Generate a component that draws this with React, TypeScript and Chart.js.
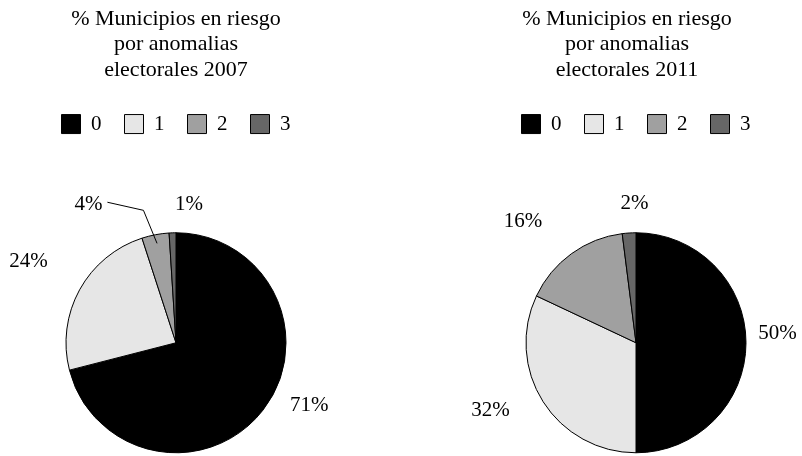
import { useEffect, useRef } from 'react';
import { Chart, registerables } from 'chart.js';

Chart.register(...registerables);

const FONT = '"Liberation Serif", "Times New Roman", serif';

const categories = ['0', '1', '2', '3'];
const values2007 = [71, 24, 4, 1];
const values2011 = [50, 32, 16, 2];
const title2007 = ['% Municipios en riesgo', 'por anomalias', 'electorales 2007'];
const title2011 = ['% Municipios en riesgo', 'por anomalias', 'electorales 2011'];
const sliceColors = ['#000000', '#e6e6e6', '#a0a0a0', '#666666'];

// label placement around each slice: [angle nudge in degrees, distance as share of radius]
const labelPlace2007 = [[-12.5, 1.34], [0, 1.53], [-21.5, 1.49], [7.2, 1.26]];
const labelPlace2011 = [[-3.6, 1.29], [7.3, 1.46], [-7, 1.505], [3, 1.264]];
const leader2007 = [false, false, true, false];
const leader2011 = [false, false, false, false];

const pctLabels = {
  id: 'pctLabels',
  afterDatasetsDraw(chart: any, _args: any, opts: any) {
    const meta = chart.getDatasetMeta(0);
    const data = chart.data.datasets[0].data;
    const ctx = chart.ctx;
    ctx.save();
    ctx.font = `${opts.size}px ${FONT}`;
    ctx.fillStyle = '#000';
    ctx.textAlign = 'center';
    ctx.textBaseline = 'middle';
    meta.data.forEach((arc: any, i: number) => {
      const { x, y, startAngle, endAngle, outerRadius } = arc.getProps(
        ['x', 'y', 'startAngle', 'endAngle', 'outerRadius'],
        true
      );
      const mid = (startAngle + endAngle) / 2;
      const [nudge, dist] = opts.place[i];
      const a = mid + (nudge * Math.PI) / 180;
      const lx = x + Math.cos(a) * outerRadius * dist;
      const ly = y + Math.sin(a) * outerRadius * dist;
      const text = data[i] + '%';
      ctx.fillText(text, lx, ly);
      if (opts.leader && opts.leader[i]) {
        const w = ctx.measureText(text).width;
        const ea = mid - (3 * Math.PI) / 180;
        ctx.beginPath();
        ctx.moveTo(lx + w / 2 + 5, ly - 2);
        ctx.lineTo(x + Math.cos(ea) * outerRadius * 1.24, y + Math.sin(ea) * outerRadius * 1.24);
        ctx.lineTo(x + Math.cos(mid) * outerRadius * 0.92, y + Math.sin(mid) * outerRadius * 0.92);
        ctx.lineWidth = 1;
        ctx.strokeStyle = '#000';
        ctx.stroke();
      }
    });
    ctx.restore();
  },
};

function makeConfig(values: number[], title: string[], place: number[][], leader: boolean[], leftSpace: number) {
  return {
    type: 'pie' as const,
    data: {
      labels: categories,
      datasets: [
        {
          data: values,
          backgroundColor: sliceColors,
          borderColor: '#000',
          borderWidth: 1,
          radius: 110,
        },
      ],
    },
    options: {
      responsive: false,
      animation: false as const,
      events: [],
      layout: { padding: 0 },
      plugins: {
        title: {
          display: true,
          text: title,
          color: '#000',
          font: { family: FONT, size: 22, weight: 'normal' as const, lineHeight: 1.16 },
          padding: { top: 6, bottom: 8 },
        },
        subtitle: {
          display: leftSpace > 0,
          position: 'left' as const,
          text: '',
          font: { size: 1, lineHeight: 1 },
          padding: { top: Math.max(leftSpace - 1, 0), bottom: 0 },
        },
        legend: {
          display: true,
          position: 'top' as const,
          fullSize: false,
          labels: {
            boxWidth: 19,
            boxHeight: 19,
            padding: 23,
            color: '#000',
            font: { family: FONT, size: 21 },
          },
        },
        tooltip: { enabled: false },
        pctLabels: { place, leader, size: 21 },
      },
    },
    plugins: [pctLabels],
  };
}

function PieCanvas(props: {
  values: number[];
  title: string[];
  place: number[][];
  leader: boolean[];
  left: number;
  width: number;
  leftSpace: number;
}) {
  const ref = useRef<HTMLCanvasElement>(null);
  useEffect(() => {
    if (!ref.current) return;
    const chart = new Chart(
      ref.current,
      makeConfig(props.values, props.title, props.place, props.leader, props.leftSpace) as any
    );
    return () => chart.destroy();
  }, []);
  return (
    <canvas
      ref={ref}
      width={props.width}
      height={541}
      style={{ position: 'absolute', left: props.left, top: 0, width: props.width, height: 541 }}
    />
  );
}

export default function App() {
  return (
    <div
      style={{
        position: 'fixed',
        left: 0,
        top: 0,
        width: 802,
        height: 456,
        overflow: 'hidden',
        background: '#fff',
      }}
    >
      <PieCanvas values={values2007} title={title2007} place={labelPlace2007} leader={leader2007} left={0} width={352} leftSpace={0} />
      <PieCanvas values={values2011} title={title2011} place={labelPlace2011} leader={leader2011} left={452} width={350} leftSpace={18} />
    </div>
  );
}
